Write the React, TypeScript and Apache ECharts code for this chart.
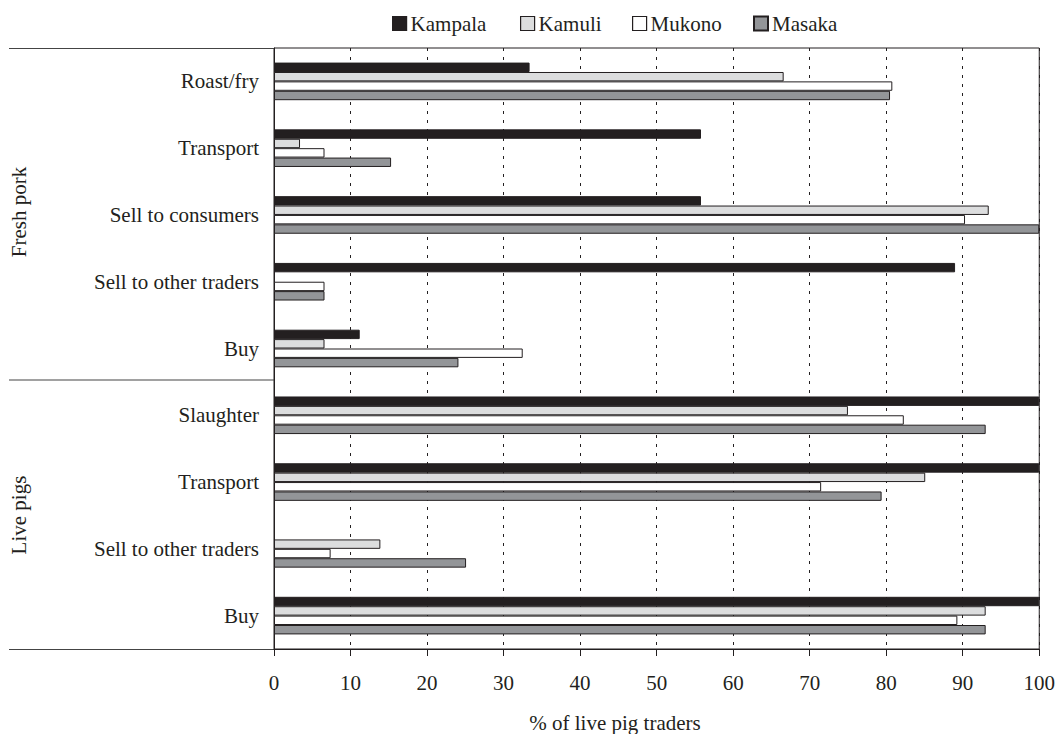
import React, { useEffect, useRef } from "react";
import * as echarts from "echarts";

const categoryIds = [
  "fp_roast",
  "fp_transport",
  "fp_consumers",
  "fp_traders",
  "fp_buy",
  "lp_slaughter",
  "lp_transport",
  "lp_traders",
  "lp_buy",
];
const categoryLabels = [
  "Roast/fry",
  "Transport",
  "Sell to consumers",
  "Sell to other traders",
  "Buy",
  "Slaughter",
  "Transport",
  "Sell to other traders",
  "Buy",
];
const groupLabels = ["Fresh pork", "Live pigs"];
const seriesNames = ["Kampala", "Kamuli", "Mukono", "Masaka"];
const kampala = [33.4, 55.8, 55.8, 89.0, 11.2, 100, 100, 0, 100];
const kamuli = [66.6, 3.4, 93.4, 0, 6.6, 75.0, 85.1, 13.9, 93.0];
const mukono = [80.8, 6.6, 90.3, 6.6, 32.5, 82.3, 71.5, 7.4, 89.3];
const masaka = [80.5, 15.3, 100, 6.6, 24.1, 93.0, 79.4, 25.1, 93.0];
const xTicks = [0, 10, 20, 30, 40, 50, 60, 70, 80, 90, 100];
const xAxisName = "% of live pig traders";

const seriesValues = [kampala, kamuli, mukono, masaka];
const seriesColors = ["#231f20", "#dcddde", "#ffffff", "#939598"];
const legendLefts = [392, 520, 632, 753];

const FONT = "'Liberation Serif', 'Times New Roman', serif";
const INK = "#231f20";
const FS = 21;

export default function App() {
  const ref = useRef<HTMLDivElement>(null);
  useEffect(() => {
    if (!ref.current) return;
    const chart = echarts.init(ref.current, undefined, { renderer: "svg" });
    const option: any = {
      animation: false,
      backgroundColor: "#ffffff",
      textStyle: { fontFamily: FONT, color: INK },
      legend: seriesNames.map((name, i) => ({
        left: legendLefts[i],
        top: 13,
        padding: 0,
        itemWidth: 14,
        itemHeight: 14,
        itemGap: 0,
        icon: "rect",
        data: [name],
        itemStyle: { borderColor: INK, borderWidth: i === 3 ? 2 : 1.2 },
        textStyle: { fontFamily: FONT, fontSize: FS, color: INK, padding: [0, 0, 0, -1] },
      })),
      grid: {
        left: 274,
        right: 18,
        top: 48,
        bottom: 85,
        show: true,
        borderColor: INK,
        borderWidth: 1,
      },
      xAxis: {
        type: "value",
        min: xTicks[0],
        max: xTicks[xTicks.length - 1],
        interval: 10,
        axisLine: { show: true, lineStyle: { color: INK, width: 1 } },
        axisTick: { show: true, length: 7, lineStyle: { color: INK } },
        axisLabel: {
          fontFamily: FONT,
          fontSize: FS,
          color: INK,
          margin: 23,
        },
        splitLine: {
          show: true,
          lineStyle: { color: INK, type: [3, 6], width: 1 },
        },
      },
      yAxis: {
        type: "category",
        inverse: true,
        data: categoryIds,
        axisLine: { show: true, lineStyle: { color: INK, width: 1 } },
        axisTick: { show: false },
        axisLabel: {
          fontFamily: FONT,
          fontSize: FS,
          color: INK,
          margin: 15,
          formatter: (v: string) => categoryLabels[categoryIds.indexOf(v)],
        },
        splitLine: { show: false },
      },
      series: seriesNames.map((name, i) => ({
        name,
        type: "bar",
        data: seriesValues[i].map((v) => (v === 0 ? "-" : v)),
        barWidth: 9.4,
        barGap: "0%",
        itemStyle: {
          color: seriesColors[i],
          borderColor: INK,
          borderWidth: 1,
        },
      })),
      graphic: [
        {
          type: "line",
          shape: { x1: 9, y1: 48.5, x2: 274, y2: 48.5 },
          style: { stroke: "#444", lineWidth: 1.2 },
        },
        {
          type: "line",
          shape: { x1: 9, y1: 380, x2: 274, y2: 380 },
          style: { stroke: "#444", lineWidth: 1.2 },
        },
        {
          type: "line",
          shape: { x1: 9, y1: 649.5, x2: 274, y2: 649.5 },
          style: { stroke: "#444", lineWidth: 1.2 },
        },
        {
          type: "text",
          x: 19,
          y: 212,
          rotation: Math.PI / 2,
          style: {
            text: groupLabels[0],
            fontFamily: FONT,
            fontSize: FS,
            fill: INK,
            align: "center",
            verticalAlign: "middle",
          },
        },
        {
          type: "text",
          x: 19,
          y: 515,
          rotation: Math.PI / 2,
          style: {
            text: groupLabels[1],
            fontFamily: FONT,
            fontSize: FS,
            fill: INK,
            align: "center",
            verticalAlign: "middle",
          },
        },
        {
          type: "text",
          x: 615,
          y: 723,
          style: {
            text: xAxisName,
            fontFamily: FONT,
            fontSize: FS,
            fill: INK,
            align: "center",
            verticalAlign: "middle",
          },
        },
      ],
    };
    chart.setOption(option);
    return () => chart.dispose();
  }, []);
  return (
    <div
      ref={ref}
      style={{ position: "fixed", left: 0, top: 0, width: 1058, height: 734 }}
    />
  );
}
